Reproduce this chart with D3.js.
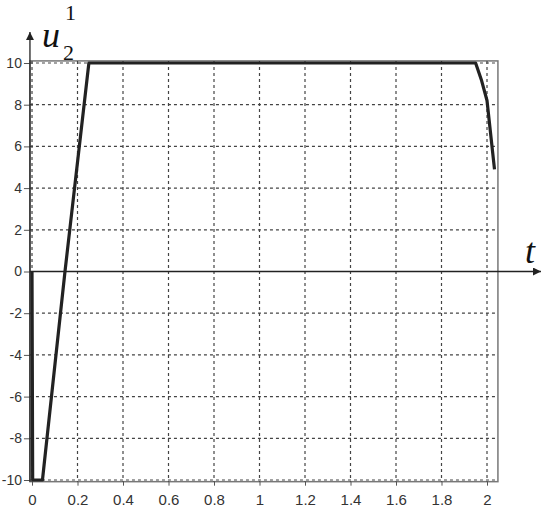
<!DOCTYPE html>
<html><head><meta charset="utf-8">
<script src="https://cdn.jsdelivr.net/npm/d3@7"></script>
<style>body{margin:0;background:#fff}</style>
</head><body>
<script>
const tValues = [0, 0.003, 0.046, 0.145, 0.25, 1.95, 1.975, 2.0, 2.033];
const uValues = [0, -10, -10, 0, 10, 10, 9.2, 8.2, 4.9];
const xTicks = [0, 0.2, 0.4, 0.6, 0.8, 1, 1.2, 1.4, 1.6, 1.8, 2];
const yTicks = [-10, -8, -6, -4, -2, 0, 2, 4, 6, 8, 10];

const W = 550, H = 512;
const svg = d3.select("body").append("svg").attr("width", W).attr("height", H);
const x = d3.scaleLinear().domain([0, 2]).range([32, 487]);
const y = d3.scaleLinear().domain([-10, 10]).range([480, 63]);
const xMin = -0.009, xMax = 2.048, yMin = -10.08, yMax = 10.1;
const sansNarrow = "'Liberation Sans Narrow', 'Arial Narrow', 'Liberation Sans', Arial, sans-serif";

// frame
svg.append("rect").attr("x", x(xMin)).attr("y", y(yMax))
  .attr("width", x(xMax) - x(xMin)).attr("height", y(yMin) - y(yMax))
  .attr("fill", "none").attr("stroke", "#777").attr("stroke-width", 1.5);

// grid
const g = svg.append("g");
g.selectAll(".vg").data(xTicks).join("line")
  .attr("x1", d => x(d)).attr("x2", d => x(d)).attr("y1", y(yMax)).attr("y2", y(yMin))
  .attr("stroke", "#444").attr("stroke-width", 1.2).attr("stroke-dasharray", "3,3");
g.selectAll(".hg").data(yTicks).join("line")
  .attr("y1", d => y(d)).attr("y2", d => y(d)).attr("x1", x(xMin)).attr("x2", x(xMax))
  .attr("stroke", "#444").attr("stroke-width", 1.2).attr("stroke-dasharray", "3,3");

// tick axes
const yAxis = d3.axisLeft(y).tickValues(yTicks).tickSize(6).tickPadding(2).tickFormat(d => String(d));
const ya = svg.append("g").attr("transform", `translate(${x(xMin)},0)`).call(yAxis);
ya.select(".domain").remove();
ya.selectAll("text").attr("font-family", sansNarrow).attr("font-size", 14).attr("fill", "#333");
ya.selectAll("line").attr("stroke", "#555");

const xAxis = d3.axisBottom(x).tickValues(xTicks).tickSize(4).tickFormat(d => String(d));
const xa = svg.append("g").attr("transform", `translate(0,${y(yMin)})`).call(xAxis);
xa.select(".domain").remove();
xa.selectAll("text").attr("font-family", sansNarrow).attr("font-size", 15).attr("fill", "#333")
  .attr("y", 23).attr("dy", null);
xa.selectAll("line").attr("stroke", "#555");

// main axes with arrows
svg.append("defs").append("marker").attr("id", "arr").attr("viewBox", "0 0 10 10")
  .attr("refX", 10).attr("refY", 5).attr("markerWidth", 10).attr("markerHeight", 8)
  .attr("markerUnits", "userSpaceOnUse").attr("orient", "auto")
  .append("path").attr("d", "M0,0L10,5L0,10z").attr("fill", "#222");
svg.append("line").attr("x1", x(xMin)).attr("x2", 541).attr("y1", y(0)).attr("y2", y(0))
  .attr("stroke", "#222").attr("stroke-width", 1.3).attr("marker-end", "url(#arr)");
svg.append("line").attr("x1", x(xMin)).attr("x2", x(xMin)).attr("y1", y(yMin)).attr("y2", 32)
  .attr("stroke", "#222").attr("stroke-width", 1.3).attr("marker-end", "url(#arr)");

// curve
const line = d3.line().x((d, i) => x(tValues[i])).y(d => y(d));
svg.append("path").datum(uValues).attr("d", line)
  .attr("fill", "none").attr("stroke", "#222").attr("stroke-width", 3.2).attr("stroke-linejoin", "round");

// labels
const serif = "'Liberation Serif', 'Times New Roman', serif";
svg.append("text").attr("x", 42).attr("y", 47).attr("font-family", serif)
  .attr("font-style", "italic").attr("font-size", 36).attr("fill", "#111").text("u");
svg.append("text").attr("x", 63).attr("y", 60).attr("font-family", serif)
  .attr("font-size", 22).attr("fill", "#111").text("2");
svg.append("text").attr("x", 65).attr("y", 20).attr("font-family", serif)
  .attr("font-size", 22).attr("fill", "#111").text("1");
svg.append("text").attr("x", 525).attr("y", 263).attr("font-family", serif)
  .attr("font-style", "italic").attr("font-size", 36).attr("fill", "#111").text("t");
</script>
</body></html>
